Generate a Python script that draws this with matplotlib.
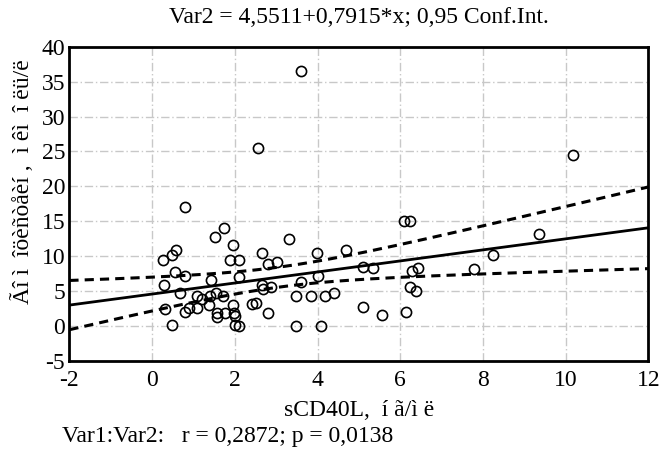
import numpy as np
import matplotlib
matplotlib.use('Agg')
import matplotlib.pyplot as plt

plt.rcParams['font.family'] = ['Liberation Serif', 'DejaVu Serif']
plt.rcParams['axes.unicode_minus'] = False

# sCD40L values (x) and Var2 values (y)
x = [0.79, 1.73, 1.53, 1.95, 0.27, 0.47, 0.57, 1.89, 2.11, 0.56,
     0.79, 1.43, 2.11, 0.28, 0.68, 1.09, 1.21, 1.41, 1.55, 1.71,
     1.37, 1.96, 2.42, 2.52, 1.09, 0.88, 0.79, 0.30, 1.58, 1.58,
     1.75, 1.97, 2.00, 2.01, 2.11, 0.47, 2.65, 2.65, 2.67, 2.88,
     2.80, 3.03, 3.31, 3.99, 4.69, 2.80, 3.48, 3.61, 3.84, 4.02,
     4.19, 4.39, 3.48, 4.08, 5.11, 5.34, 5.10, 5.57, 6.08, 6.24,
     6.28, 6.42, 6.24, 6.38, 6.14, 7.79, 8.24, 9.36, 10.18, 2.57,
     3.60]
y = [17.1, 14.0, 12.7, 11.6, 9.4, 10.1, 10.8, 9.4, 9.4, 7.7,
     7.2, 6.6, 7.0, 5.9, 4.7, 4.2, 3.9, 4.2, 4.7, 4.2,
     3.0, 3.0, 3.1, 3.2, 2.5, 2.5, 2.0, 2.4, 1.9, 1.3,
     1.8, 1.9, 1.4, 0.1, 0.0, 0.1, 10.4, 5.9, 5.3, 5.5,
     8.9, 9.2, 12.4, 10.4, 10.8, 1.8, 4.3, 6.3, 4.2, 7.2,
     4.2, 4.7, 0.0, 0.0, 8.5, 8.3, 2.7, 1.5, 15.0, 15.0,
     7.9, 8.3, 5.6, 5.0, 2.0, 8.1, 10.2, 13.1, 24.5, 25.5,
     36.5]

b0, b1 = 4.5511, 0.7915

x = np.array(x)
y = np.array(y)
n = len(x)
xs = np.linspace(-2, 12, 200)
fit = b0 + b1 * xs
resid = y - (b0 + b1 * x)
s = np.sqrt(np.sum(resid ** 2) / (n - 2))
sxx = np.sum((x - x.mean()) ** 2)
hw = 1.995 * s * np.sqrt(1 / n + (xs - x.mean()) ** 2 / sxx)

fig = plt.figure(figsize=(6.61, 4.63), dpi=100)
ax = fig.add_axes([0.105, 0.221, 0.876, 0.678])

ax.grid(True, color='#c8c8c8', linestyle=(0, (6, 2, 1, 2)), linewidth=1)
ax.set_axisbelow(True)

ax.plot(xs, fit, color='black', linewidth=2)
ax.plot(xs, fit + hw, color='black', linewidth=2.2, linestyle=(0, (3, 2)))
ax.plot(xs, fit - hw, color='black', linewidth=2.2, linestyle=(0, (3, 2)))
ax.plot(x, y, 'o', markersize=7.3, markerfacecolor='none',
        markeredgecolor='black', markeredgewidth=1.2)

ax.set_xlim(-2, 12)
ax.set_ylim(-5, 40)
ax.set_xticks(range(-2, 13, 2))
ax.set_yticks(range(-5, 41, 5))
ax.tick_params(length=0, labelsize=17)
ax.tick_params(axis='x', pad=7)
ax.tick_params(axis='y', pad=3)
for sp in ax.spines.values():
    sp.set_linewidth(2)

ax.set_title('Var2 = 4,5511+0,7915*x; 0,95 Conf.Int.', fontsize=17, pad=17)
ax.set_xlabel('sCD40L,  í ã/ì ë', fontsize=17, labelpad=6)
ax.set_ylabel('Ãî ì  îöèñòåèí ,  ì êì  î ëü/ë', fontsize=17)
ax.yaxis.set_label_coords(-0.062, 0.57)
fig.text(0.094, 0.058, 'Var1:Var2:   r = 0,2872; p = 0,0138', fontsize=17,
         va='center')

fig.savefig('out.png', dpi=100)
